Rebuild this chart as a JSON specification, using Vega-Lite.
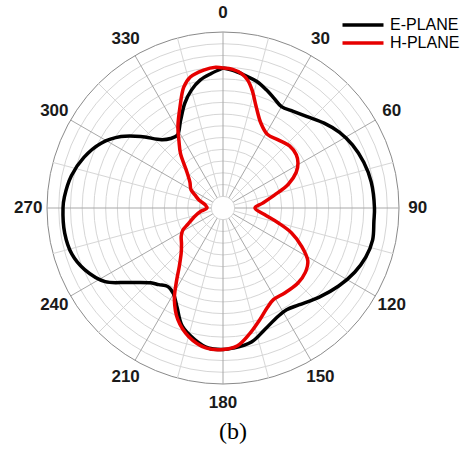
{
  "$schema": "https://vega.github.io/schema/vega-lite/v6.json",
  "width": 352,
  "height": 352,
  "autosize": {"type": "none"},
  "padding": {"left": 47, "top": 32, "right": 66, "bottom": 66},
  "background": "white",
  "config": {"view": {"stroke": null}, "font": "Liberation Sans"},
  "title": {
    "text": "(b)",
    "orient": "bottom",
    "font": "Liberation Serif",
    "fontSize": 24,
    "fontWeight": "normal",
    "color": "black",
    "offset": 9,
    "dx": 10
  },
  "datasets": {
    "rings": [
      {"ring": 2}, {"ring": 4}, {"ring": 6}, {"ring": 8}, {"ring": 10},
      {"ring": 12}, {"ring": 14}, {"ring": 16}, {"ring": 18}, {"ring": 20},
      {"ring": 22}, {"ring": 24}, {"ring": 26}, {"ring": 28}, {"ring": 30}
    ],
    "spokes": [
      {"angle": 0}, {"angle": 15}, {"angle": 30}, {"angle": 45}, {"angle": 60}, {"angle": 75},
      {"angle": 90}, {"angle": 105}, {"angle": 120}, {"angle": 135}, {"angle": 150}, {"angle": 165},
      {"angle": 180}, {"angle": 195}, {"angle": 210}, {"angle": 225}, {"angle": 240}, {"angle": 255},
      {"angle": 270}, {"angle": 285}, {"angle": 300}, {"angle": 315}, {"angle": 330}, {"angle": 345}
    ],
    "labels": [
      {"angle": 0}, {"angle": 30}, {"angle": 60}, {"angle": 90}, {"angle": 120}, {"angle": 150},
      {"angle": 180}, {"angle": 210}, {"angle": 240}, {"angle": 270}, {"angle": 300}, {"angle": 330}
    ],
    "pattern": [
      {"plane": "E-PLANE", "angle": 0, "gain": -6.14},
      {"plane": "E-PLANE", "angle": 5, "gain": -6.56},
      {"plane": "E-PLANE", "angle": 10, "gain": -7.16},
      {"plane": "E-PLANE", "angle": 15, "gain": -7.67},
      {"plane": "E-PLANE", "angle": 20, "gain": -8.52},
      {"plane": "E-PLANE", "angle": 25, "gain": -9.38},
      {"plane": "E-PLANE", "angle": 30, "gain": -10.06},
      {"plane": "E-PLANE", "angle": 36, "gain": -9.63},
      {"plane": "E-PLANE", "angle": 43, "gain": -8.78},
      {"plane": "E-PLANE", "angle": 50, "gain": -7.5},
      {"plane": "E-PLANE", "angle": 57, "gain": -6.31},
      {"plane": "E-PLANE", "angle": 64, "gain": -5.45},
      {"plane": "E-PLANE", "angle": 72, "gain": -4.77},
      {"plane": "E-PLANE", "angle": 80, "gain": -4.35},
      {"plane": "E-PLANE", "angle": 90, "gain": -4.18},
      {"plane": "E-PLANE", "angle": 95, "gain": -4.18},
      {"plane": "E-PLANE", "angle": 102, "gain": -3.92},
      {"plane": "E-PLANE", "angle": 109, "gain": -4.26},
      {"plane": "E-PLANE", "angle": 116, "gain": -5.03},
      {"plane": "E-PLANE", "angle": 124, "gain": -6.22},
      {"plane": "E-PLANE", "angle": 133, "gain": -7.67},
      {"plane": "E-PLANE", "angle": 142, "gain": -9.03},
      {"plane": "E-PLANE", "angle": 148, "gain": -9.55},
      {"plane": "E-PLANE", "angle": 153, "gain": -9.29},
      {"plane": "E-PLANE", "angle": 161, "gain": -8.1},
      {"plane": "E-PLANE", "angle": 168, "gain": -6.65},
      {"plane": "E-PLANE", "angle": 176, "gain": -6.05},
      {"plane": "E-PLANE", "angle": 180, "gain": -5.88},
      {"plane": "E-PLANE", "angle": 186, "gain": -6.0},
      {"plane": "E-PLANE", "angle": 192, "gain": -7.04},
      {"plane": "E-PLANE", "angle": 199, "gain": -8.69},
      {"plane": "E-PLANE", "angle": 205, "gain": -11.42},
      {"plane": "E-PLANE", "angle": 210, "gain": -13.12},
      {"plane": "E-PLANE", "angle": 215, "gain": -13.64},
      {"plane": "E-PLANE", "angle": 220, "gain": -12.95},
      {"plane": "E-PLANE", "angle": 224, "gain": -12.27},
      {"plane": "E-PLANE", "angle": 232, "gain": -9.38},
      {"plane": "E-PLANE", "angle": 238, "gain": -6.31},
      {"plane": "E-PLANE", "angle": 246, "gain": -4.18},
      {"plane": "E-PLANE", "angle": 253, "gain": -3.07},
      {"plane": "E-PLANE", "angle": 261, "gain": -2.68},
      {"plane": "E-PLANE", "angle": 270, "gain": -2.73},
      {"plane": "E-PLANE", "angle": 274, "gain": -2.9},
      {"plane": "E-PLANE", "angle": 282, "gain": -3.58},
      {"plane": "E-PLANE", "angle": 290, "gain": -4.77},
      {"plane": "E-PLANE", "angle": 298, "gain": -6.48},
      {"plane": "E-PLANE", "angle": 305, "gain": -8.78},
      {"plane": "E-PLANE", "angle": 311, "gain": -11.42},
      {"plane": "E-PLANE", "angle": 318, "gain": -14.32},
      {"plane": "E-PLANE", "angle": 323, "gain": -15.17},
      {"plane": "E-PLANE", "angle": 328, "gain": -15.34},
      {"plane": "E-PLANE", "angle": 334, "gain": -13.47},
      {"plane": "E-PLANE", "angle": 340, "gain": -10.98},
      {"plane": "E-PLANE", "angle": 345, "gain": -9.2},
      {"plane": "E-PLANE", "angle": 350, "gain": -7.84},
      {"plane": "E-PLANE", "angle": 355, "gain": -6.99},
      {"plane": "E-PLANE", "angle": 360, "gain": -6.14},
      {"plane": "H-PLANE", "angle": 0, "gain": -6.14},
      {"plane": "H-PLANE", "angle": 4, "gain": -6.31},
      {"plane": "H-PLANE", "angle": 8, "gain": -6.9},
      {"plane": "H-PLANE", "angle": 11, "gain": -7.84},
      {"plane": "H-PLANE", "angle": 14, "gain": -9.38},
      {"plane": "H-PLANE", "angle": 18, "gain": -11.76},
      {"plane": "H-PLANE", "angle": 24, "gain": -14.15},
      {"plane": "H-PLANE", "angle": 31, "gain": -15.34},
      {"plane": "H-PLANE", "angle": 39, "gain": -15.05},
      {"plane": "H-PLANE", "angle": 47, "gain": -14.49},
      {"plane": "H-PLANE", "angle": 54, "gain": -14.56},
      {"plane": "H-PLANE", "angle": 59, "gain": -15.09},
      {"plane": "H-PLANE", "angle": 64, "gain": -16.11},
      {"plane": "H-PLANE", "angle": 70, "gain": -18.15},
      {"plane": "H-PLANE", "angle": 76, "gain": -20.97},
      {"plane": "H-PLANE", "angle": 83, "gain": -23.18},
      {"plane": "H-PLANE", "angle": 90, "gain": -24.55},
      {"plane": "H-PLANE", "angle": 99, "gain": -22.84},
      {"plane": "H-PLANE", "angle": 105, "gain": -20.28},
      {"plane": "H-PLANE", "angle": 110, "gain": -17.56},
      {"plane": "H-PLANE", "angle": 116, "gain": -15.09},
      {"plane": "H-PLANE", "angle": 122, "gain": -12.95},
      {"plane": "H-PLANE", "angle": 128, "gain": -12.19},
      {"plane": "H-PLANE", "angle": 135, "gain": -11.93},
      {"plane": "H-PLANE", "angle": 144, "gain": -12.1},
      {"plane": "H-PLANE", "angle": 151, "gain": -12.19},
      {"plane": "H-PLANE", "angle": 156, "gain": -11.42},
      {"plane": "H-PLANE", "angle": 162, "gain": -9.89},
      {"plane": "H-PLANE", "angle": 168, "gain": -8.1},
      {"plane": "H-PLANE", "angle": 174, "gain": -6.39},
      {"plane": "H-PLANE", "angle": 180, "gain": -5.88},
      {"plane": "H-PLANE", "angle": 187, "gain": -5.97},
      {"plane": "H-PLANE", "angle": 195, "gain": -7.33},
      {"plane": "H-PLANE", "angle": 202, "gain": -9.46},
      {"plane": "H-PLANE", "angle": 208, "gain": -12.34},
      {"plane": "H-PLANE", "angle": 212, "gain": -14.95},
      {"plane": "H-PLANE", "angle": 217, "gain": -17.64},
      {"plane": "H-PLANE", "angle": 223, "gain": -19.55},
      {"plane": "H-PLANE", "angle": 229, "gain": -20.63},
      {"plane": "H-PLANE", "angle": 236, "gain": -21.41},
      {"plane": "H-PLANE", "angle": 241, "gain": -22.16},
      {"plane": "H-PLANE", "angle": 245, "gain": -23.35},
      {"plane": "H-PLANE", "angle": 254, "gain": -25.06},
      {"plane": "H-PLANE", "angle": 262, "gain": -26.25},
      {"plane": "H-PLANE", "angle": 270, "gain": -27.27},
      {"plane": "H-PLANE", "angle": 280, "gain": -26.93},
      {"plane": "H-PLANE", "angle": 288, "gain": -25.74},
      {"plane": "H-PLANE", "angle": 295, "gain": -24.72},
      {"plane": "H-PLANE", "angle": 300, "gain": -23.69},
      {"plane": "H-PLANE", "angle": 308, "gain": -22.84},
      {"plane": "H-PLANE", "angle": 316, "gain": -20.97},
      {"plane": "H-PLANE", "angle": 322, "gain": -18.24},
      {"plane": "H-PLANE", "angle": 327, "gain": -16.19},
      {"plane": "H-PLANE", "angle": 331, "gain": -14.15},
      {"plane": "H-PLANE", "angle": 337, "gain": -11.25},
      {"plane": "H-PLANE", "angle": 342, "gain": -8.35},
      {"plane": "H-PLANE", "angle": 346, "gain": -6.99},
      {"plane": "H-PLANE", "angle": 352, "gain": -6.26},
      {"plane": "H-PLANE", "angle": 357, "gain": -5.97},
      {"plane": "H-PLANE", "angle": 360, "gain": -6.14}
    ]
  },
  "layer": [
    {
      "data": {"name": "rings"},
      "mark": {"type": "point", "shape": "circle", "filled": false, "strokeWidth": 1, "opacity": 1},
      "encoding": {
        "x": {"datum": 0, "type": "quantitative", "scale": {"domain": [-30, 30], "nice": false, "zero": false}, "axis": null},
        "y": {"datum": 0, "type": "quantitative", "scale": {"domain": [-30, 30], "nice": false, "zero": false}, "axis": null},
        "size": {
          "field": "ring",
          "type": "quantitative",
          "scale": {"type": "pow", "exponent": 2, "domain": [0, 30], "range": [0, 123904], "zero": true},
          "legend": null
        },
        "stroke": {
          "condition": {"test": "datum.ring == 30", "value": "#8a8a8a"},
          "value": "#d6d6d6"
        }
      }
    },
    {
      "data": {"name": "spokes"},
      "transform": [
        {"calculate": "datum.angle * PI / 180", "as": "rad"},
        {"calculate": "2 * sin(datum.rad)", "as": "xa"},
        {"calculate": "2 * cos(datum.rad)", "as": "ya"},
        {"calculate": "30 * sin(datum.rad)", "as": "xb"},
        {"calculate": "30 * cos(datum.rad)", "as": "yb"}
      ],
      "mark": {"type": "rule", "strokeWidth": 1},
      "encoding": {
        "x": {"field": "xa", "type": "quantitative", "scale": {"domain": [-30, 30], "nice": false, "zero": false}, "axis": null},
        "y": {"field": "ya", "type": "quantitative", "scale": {"domain": [-30, 30], "nice": false, "zero": false}, "axis": null},
        "x2": {"field": "xb"},
        "y2": {"field": "yb"},
        "stroke": {
          "condition": {"test": "datum.angle % 30 == 0", "value": "#a8a8a8"},
          "value": "#d6d6d6"
        }
      }
    },
    {
      "data": {"name": "pattern"},
      "transform": [
        {"calculate": "datum.angle * PI / 180", "as": "rad"},
        {"calculate": "datum.gain + 30", "as": "rho"},
        {"calculate": "datum.rho * sin(datum.rad)", "as": "px"},
        {"calculate": "datum.rho * cos(datum.rad)", "as": "py"}
      ],
      "mark": {"type": "line", "strokeWidth": 3.5, "interpolate": "catmull-rom"},
      "encoding": {
        "x": {"field": "px", "type": "quantitative", "scale": {"domain": [-30, 30], "nice": false, "zero": false}, "axis": null},
        "y": {"field": "py", "type": "quantitative", "scale": {"domain": [-30, 30], "nice": false, "zero": false}, "axis": null},
        "order": {"field": "angle", "type": "quantitative"},
        "color": {
          "field": "plane",
          "type": "nominal",
          "scale": {"domain": ["E-PLANE", "H-PLANE"], "range": ["#000000", "#e60000"]},
          "legend": {
            "title": null,
            "orient": "none",
            "legendX": 308,
            "legendY": -15,
            "padding": 0,
            "symbolType": "M-4,0H4",
            "symbolSize": 105,
            "symbolStrokeWidth": 3.5,
            "symbolOffset": 0,
            "labelOffset": 19,
            "labelFont": "Liberation Sans",
            "labelFontSize": 16,
            "labelColor": "#000000",
            "rowPadding": 2
          }
        }
      }
    },
    {
      "data": {"name": "labels"},
      "transform": [
        {"calculate": "datum.angle * PI / 180", "as": "rad"},
        {"calculate": "33.2 * sin(datum.rad)", "as": "lx"},
        {"calculate": "33.2 * cos(datum.rad)", "as": "ly"}
      ],
      "mark": {"type": "text", "align": "center", "baseline": "middle", "fontSize": 17, "fontWeight": "bold", "font": "Liberation Sans", "color": "#1a1a1a"},
      "encoding": {
        "x": {"field": "lx", "type": "quantitative", "scale": {"domain": [-30, 30], "nice": false, "zero": false}, "axis": null},
        "y": {"field": "ly", "type": "quantitative", "scale": {"domain": [-30, 30], "nice": false, "zero": false}, "axis": null},
        "text": {"field": "angle", "type": "quantitative", "format": "d"}
      }
    }
  ]
}
